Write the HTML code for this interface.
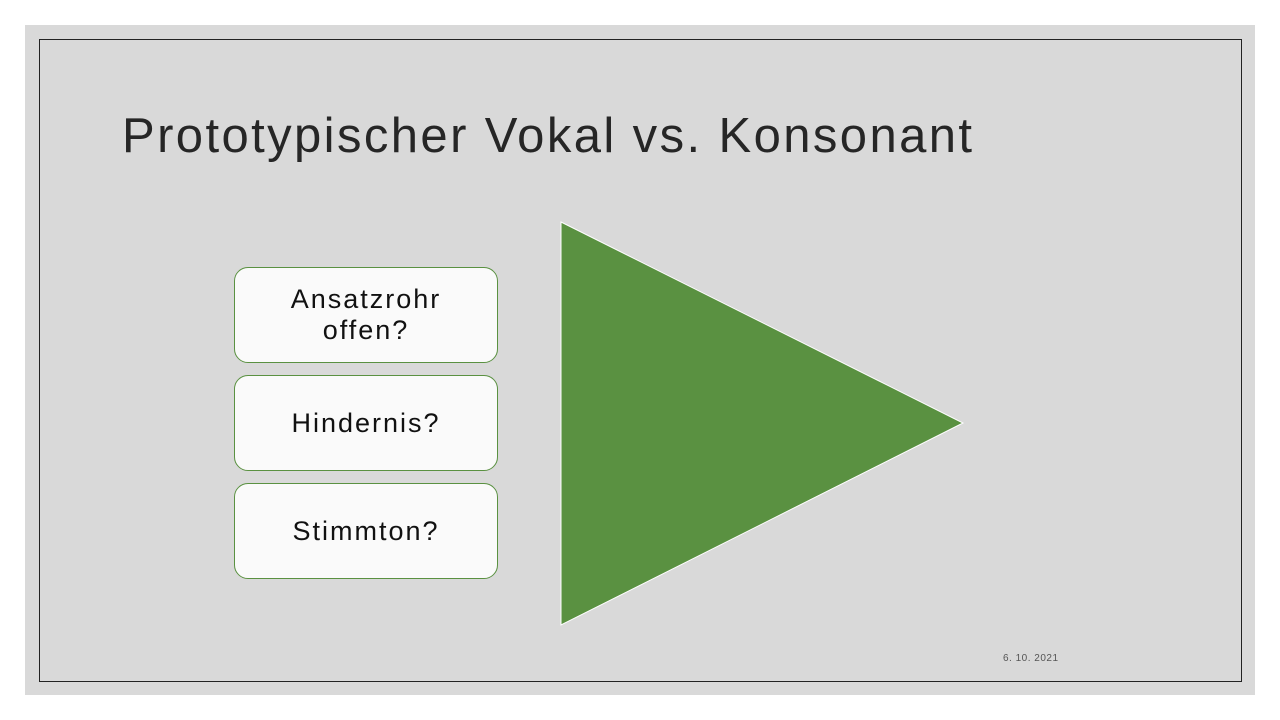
<!DOCTYPE html>
<html><head><meta charset="utf-8"><style>
body{margin:0;width:1280px;height:720px;background:#fff;position:relative;overflow:hidden;font-family:"Liberation Sans",sans-serif}
.slide{position:absolute;left:25px;top:25px;width:1230px;height:670px;background:#d9d9d9}
.frame{position:absolute;left:39px;top:39px;width:1201px;height:641px;border:1.5px solid #222}
.title{position:absolute;left:122px;top:108px;font-size:49px;color:#262626;white-space:nowrap;letter-spacing:2.4px}
.box{position:absolute;left:234px;width:262px;height:94px;background:#fafafa;border:1px solid #5a9141;border-radius:14px;display:flex;align-items:center;justify-content:center;text-align:center;font-size:27px;color:#111;line-height:31px;letter-spacing:2px}
.date{position:absolute;left:1003px;top:653px;font-size:10px;color:#555;letter-spacing:0.5px}
</style></head><body>
<div class="slide"></div>
<div class="frame"></div>
<div class="title">Prototypischer Vokal vs. Konsonant</div>
<div class="box" style="top:267px">Ansatzrohr<br>offen?</div>
<div class="box" style="top:375px">Hindernis?</div>
<div class="box" style="top:483px">Stimmton?</div>
<svg style="position:absolute;left:0;top:0" width="1280" height="720"><polygon points="561,222 963,423 561,625" fill="#5a9141" stroke="#fff" stroke-width="1"/></svg>
<div class="date">6. 10. 2021</div>
</body></html>
